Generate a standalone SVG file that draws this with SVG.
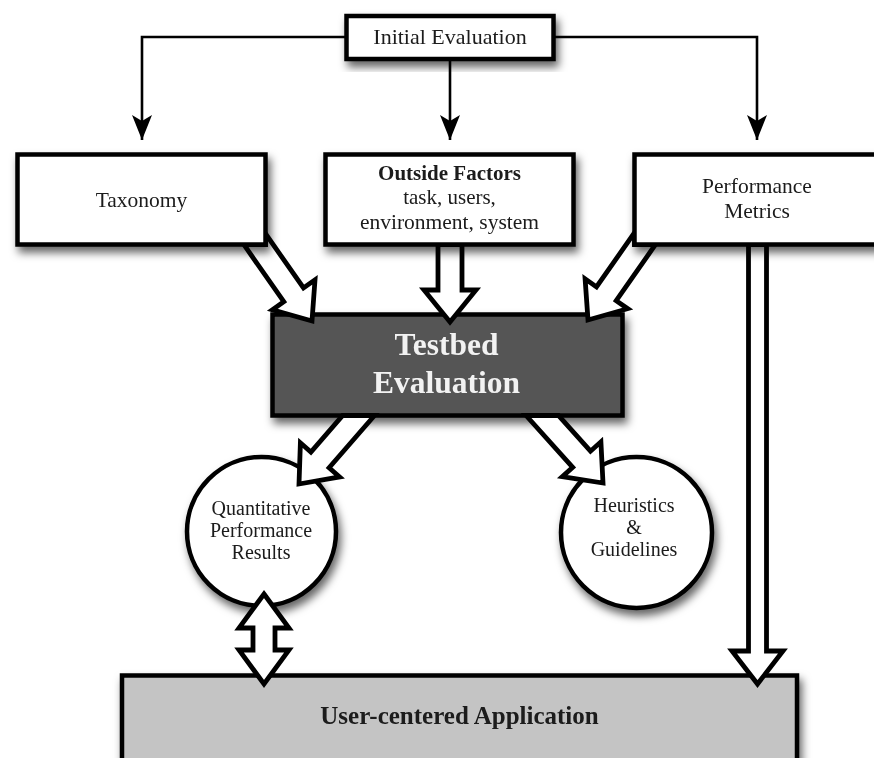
<svg xmlns="http://www.w3.org/2000/svg" width="874" height="758" viewBox="0 0 874 758">
<defs>
<style>
.box{fill:#fff;stroke:#000;stroke-width:4.5}
.t{font-family:"Liberation Serif","Times New Roman",serif;fill:#1a1a1a;text-anchor:middle}
.b{font-weight:bold}
.blk{fill:#fff;stroke:#000;stroke-width:4.8;stroke-linejoin:miter;stroke-miterlimit:10}
.thin{fill:none;stroke:#000;stroke-width:2.6}
</style>
<filter id="sh" x="-20%" y="-20%" width="140%" height="150%">
<feDropShadow dx="3" dy="6" stdDeviation="4.5" flood-color="#000" flood-opacity="0.6"/>
</filter>
<marker id="ah" markerUnits="userSpaceOnUse" markerWidth="26" markerHeight="22" viewBox="0 0 26 22" refX="25" refY="11" orient="auto">
<path d="M0,1 L25,11 L0,21 L6,11 Z" fill="#000"/>
</marker>
</defs>
<rect width="874" height="758" fill="#fff"/>

<g id="user-centered-application" filter="url(#sh)">
<rect x="122" y="675.5" width="675" height="100" fill="#c4c4c4" stroke="#000" stroke-width="4.5"/>
<text class="t b" x="459.5" y="724" font-size="25">User-centered Application</text>
</g>

<g id="quantitative-performance-results" filter="url(#sh)">
<circle class="box" cx="261.5" cy="531.5" r="74.5"/>
<text class="t" x="261" y="515" font-size="20">Quantitative</text>
<text class="t" x="261" y="537" font-size="20">Performance</text>
<text class="t" x="261" y="559" font-size="20">Results</text>
</g>

<g id="heuristics-guidelines" filter="url(#sh)">
<circle class="box" cx="636.5" cy="532.5" r="75.5"/>
<text class="t" x="634" y="512" font-size="20">Heuristics</text>
<text class="t" x="634" y="534" font-size="20">&amp;</text>
<text class="t" x="634" y="556" font-size="20">Guidelines</text>
</g>

<g id="testbed-evaluation" filter="url(#sh)">
<rect x="272.5" y="314.5" width="350" height="101" fill="#555" stroke="#000" stroke-width="4.5"/>
<text class="t b" x="446.5" y="355" font-size="31.5" style="fill:#f2f2f2">Testbed</text>
<text class="t b" x="446.5" y="392.5" font-size="31.5" style="fill:#f2f2f2">Evaluation</text>
</g>

<g id="connectors">
<path class="thin" d="M346.5,37 H142 V140" marker-end="url(#ah)"/>
<path class="thin" d="M450,59 V140" marker-end="url(#ah)"/>
<path class="thin" d="M553.5,37 H757 V140" marker-end="url(#ah)"/>
<polygon class="blk" points="243.8,244.5 265.5,244.5 265.5,233.7 303.5,287.9 315,279.9 312,321 272.4,309.7 283.8,301.7"/>
<polygon class="blk" points="438,244.5 462,244.5 462,290 476,290 450,322 424,290 438,290"/>
<polygon class="blk" points="655.5,244.5 634.5,244.5 634.5,232.7 596.5,286.9 585.1,278.9 588,320 627.7,308.7 616.2,300.7"/>
<polygon class="blk" points="342.7,415.5 374.5,415.5 329.1,467.7 339.6,476.9 299,484 300.4,442.8 310.9,452"/>
<polygon class="blk" points="526.1,415.5 558.4,415.5 590.5,451.2 600.9,441.8 603,483 562.3,476.6 572.7,467.3"/>
<polygon class="blk" points="748.5,244.5 766.5,244.5 766.5,651 783,651 757.5,684 732,651 748.5,651"/>
<polygon class="blk" points="264,594 289,628 275,628 275,650 289,650 264,684 239,650 253,650 253,628 239,628"/>
</g>

<g id="taxonomy" filter="url(#sh)">
<rect class="box" x="17.5" y="154.5" width="248" height="90"/>
<text class="t" x="141.5" y="207" font-size="21.5">Taxonomy</text>
</g>

<g id="outside-factors" filter="url(#sh)">
<rect class="box" x="325.5" y="154.5" width="248" height="90"/>
<text class="t b" x="449.5" y="180" font-size="21">Outside Factors</text>
<text class="t" x="449.5" y="204" font-size="21">task, users,</text>
<text class="t" x="449.5" y="229" font-size="21.5">environment, system</text>
</g>

<g id="performance-metrics" filter="url(#sh)">
<rect class="box" x="634.5" y="154.5" width="250" height="90"/>
<text class="t" x="757" y="193" font-size="21.5">Performance</text>
<text class="t" x="757" y="218" font-size="21.5">Metrics</text>
</g>

<g id="initial-evaluation" filter="url(#sh)">
<rect class="box" x="346.5" y="16" width="207" height="43"/>
<text class="t" x="450" y="43.5" font-size="22">Initial Evaluation</text>
</g>
</svg>
